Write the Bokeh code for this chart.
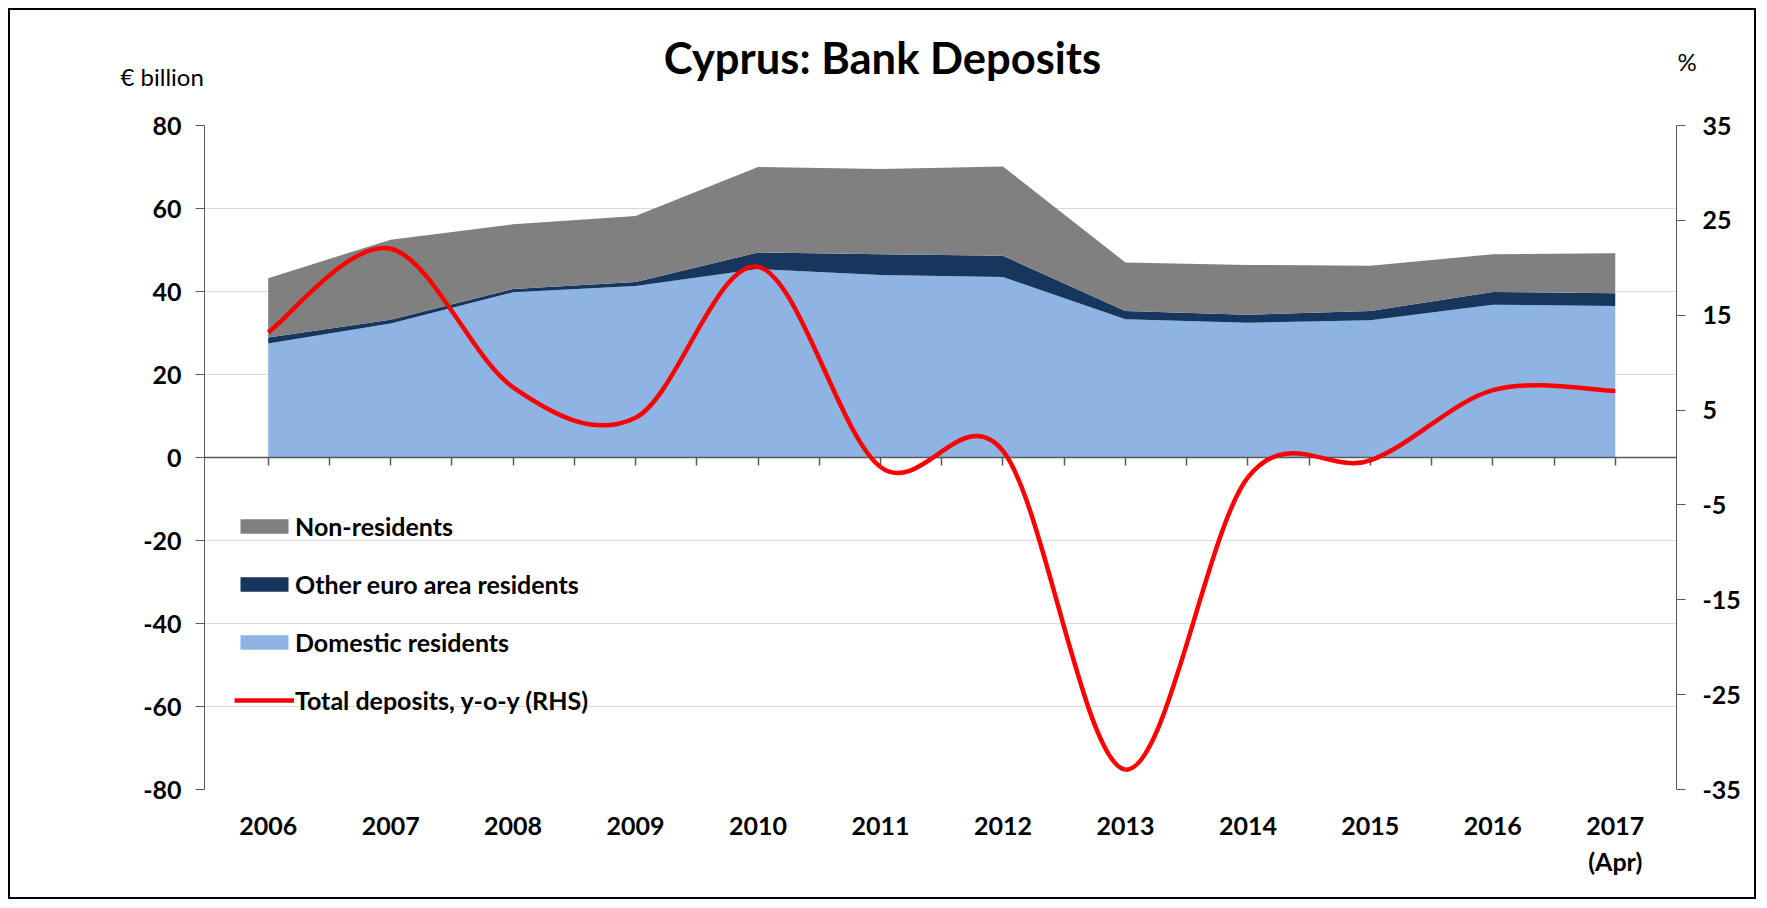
import numpy as np
from bokeh.plotting import figure
from bokeh.models import (ColumnDataSource, Range1d, LinearAxis, FixedTicker,
                          Legend, LegendItem)
from bokeh.core.properties import value
from bokeh.embed import file_html
from bokeh.resources import INLINE

# ---------------- data ----------------
years = [2006, 2007, 2008, 2009, 2010, 2011, 2012, 2013, 2014, 2015, 2016, 2017]
year_labels = ["2006", "2007", "2008", "2009", "2010", "2011", "2012", "2013",
               "2014", "2015", "2016", "2017\n(Apr)"]
domestic = [27.5, 32.3, 39.8, 41.3, 45.4, 44.0, 43.5, 33.3, 32.5, 33.1, 36.8, 36.5]
other_ea = [1.4, 0.9, 0.8, 1.0, 4.0, 5.0, 5.1, 2.0, 1.9, 2.2, 3.1, 3.1]
non_res = [14.3, 19.3, 15.6, 15.9, 20.6, 20.5, 21.5, 11.7, 12.0, 10.9, 9.1, 9.6]
total_yoy = [13.2, 22.0, 7.4, 4.2, 20.1, -1.0, 0.7, -32.9, -2.1, -0.3, 7.1, 7.0]

left_ticks = [-80, -60, -40, -20, 0, 20, 40, 60, 80]
right_ticks = [-35, -25, -15, -5, 5, 15, 25, 35]

title_text = "Cyprus: Bank Deposits"
left_unit = "€ billion"
right_unit = "%"

FONT = "Lato"
AXIS_COLOR = "#595959"
C_DOM, C_OTH, C_NON, C_RED = "#8EB4E3", "#17365D", "#808080", "#FF0000"
BORDER = "2px solid #000000"

W = 1748
HEAD_H = 100
MAIN_H = 791

# ---------------- header (title and unit labels) ----------------
head = figure(width=W, height=HEAD_H, x_range=Range1d(0, W), y_range=Range1d(HEAD_H, 0),
              output_backend="svg", toolbar_location=None, min_border=0,
              x_axis_type=None, y_axis_type=None)
head.outline_line_color = None
head.background_fill_color = "white"
head.border_fill_color = "white"
head.margin = (8, 0, 0, 8)
head.styles = {"border-top": BORDER, "border-left": BORDER, "border-right": BORDER}
head.text(x=[872], y=[46], text=[title_text], text_align="center",
          text_baseline="alphabetic", text_font=value(FONT),
          text_font_style="bold", text_font_size="43.5px", text_color="black")
head.text(x=[110], y=[65.5], text=[left_unit], text_align="left",
          text_baseline="alphabetic", text_font=value(FONT),
          text_font_size="24px", text_color="black")
head.text(x=[1667], y=[51], text=[right_unit], text_align="left",
          text_baseline="alphabetic", text_font=value(FONT),
          text_font_size="24px", text_color="black")

# ---------------- main chart ----------------
p = figure(width=W, height=MAIN_H,
           x_range=Range1d(2005.48, 2017.5), y_range=Range1d(-80, 80),
           output_backend="svg", toolbar_location=None,
           min_border_left=194, min_border_right=82,
           min_border_top=17, min_border_bottom=110)
p.margin = (0, 0, 0, 8)
p.styles = {"border-bottom": BORDER, "border-left": BORDER, "border-right": BORDER}
p.extra_y_ranges = {"pct": Range1d(-35, 35)}
p.outline_line_color = None
p.background_fill_color = "white"
p.border_fill_color = "white"

p.xgrid.visible = False
p.ygrid.ticker = FixedTicker(ticks=left_ticks)
p.ygrid.grid_line_color = "#D9D9D9"
p.ygrid.grid_line_width = 1

src = ColumnDataSource(dict(year=years, dom=domestic, oth=other_ea, non=non_res))
r_dom, r_oth, r_non = p.varea_stack(["dom", "oth", "non"], x="year", source=src,
                                    color=[C_DOM, C_OTH, C_NON])

# smooth red line: Bezier segments through the data points
xs = np.array(years, dtype=float)
ys = np.array(total_yoy, dtype=float)
n = len(xs)
idx = np.arange(n)
prv = np.clip(idx - 1, 0, n - 1)
nxt = np.clip(idx + 1, 0, n - 1)
tx = (xs[nxt] - xs[prv]) / 6.0
ty = (ys[nxt] - ys[prv]) / 6.0
bez = ColumnDataSource(dict(x0=xs[:-1], y0=ys[:-1], x1=xs[1:], y1=ys[1:],
                            cx0=xs[:-1] + tx[:-1], cy0=ys[:-1] + ty[:-1],
                            cx1=xs[1:] - tx[1:], cy1=ys[1:] - ty[1:]))
r_red = p.bezier(x0="x0", y0="y0", x1="x1", y1="y1", cx0="cx0", cy0="cy0",
                 cx1="cx1", cy1="cy1", source=bez, line_color=C_RED,
                 line_width=4.5, y_range_name="pct", level="overlay")

# bottom axis: year labels only
xa = p.xaxis[0]
xa.ticker = FixedTicker(ticks=years)
xa.major_label_overrides = {y: lab for y, lab in zip(years, year_labels)}
xa.axis_line_color = None
xa.major_tick_line_color = None
xa.minor_tick_line_color = None
xa.major_tick_out = 0
xa.major_tick_in = 0
xa.major_label_standoff = 20
xa.major_label_text_font = FONT
xa.major_label_text_font_style = "bold"
xa.major_label_text_font_size = "25px"
xa.major_label_text_color = "black"

# horizontal axis line at zero with half-year tick marks
half_ticks = sorted(set(list(years) + [y + 0.5 for y in years[:-1]]))
zax = LinearAxis(fixed_location=0, ticker=FixedTicker(ticks=half_ticks),
                 major_label_text_color=None, major_label_standoff=0,
                 major_tick_in=8, major_tick_out=0,
                 minor_tick_line_color=None,
                 axis_line_color=AXIS_COLOR, major_tick_line_color=AXIS_COLOR,
                 axis_line_width=1.5, major_tick_line_width=1.5)
p.add_layout(zax, "above")

# left axis
ya = p.yaxis[0]
ya.ticker = FixedTicker(ticks=left_ticks)
ya.major_label_overrides = {t: str(t) for t in left_ticks}
ya.axis_line_color = AXIS_COLOR
ya.major_tick_line_color = AXIS_COLOR
ya.minor_tick_line_color = None
ya.major_tick_out = 9
ya.major_tick_in = 0
ya.major_label_standoff = 14
ya.major_label_text_font = FONT
ya.major_label_text_font_style = "bold"
ya.major_label_text_font_size = "25px"
ya.major_label_text_color = "black"

# right axis
ra = LinearAxis(y_range_name="pct", ticker=FixedTicker(ticks=right_ticks))
ra.major_label_overrides = {t: str(t) for t in right_ticks}
ra.axis_line_color = AXIS_COLOR
ra.major_tick_line_color = AXIS_COLOR
ra.minor_tick_line_color = None
ra.major_tick_out = 9
ra.major_tick_in = 0
ra.major_label_standoff = 17
ra.major_label_text_font = FONT
ra.major_label_text_font_style = "bold"
ra.major_label_text_font_size = "25px"
ra.major_label_text_color = "black"
p.add_layout(ra, "right")

legend = Legend(items=[
    LegendItem(label="Non-residents", renderers=[r_non]),
    LegendItem(label="Other euro area residents", renderers=[r_oth]),
    LegendItem(label="Domestic residents", renderers=[r_dom]),
    LegendItem(label="Total deposits, y-o-y (RHS)", renderers=[r_red]),
], location=(30, 74), orientation="vertical",
    glyph_width=60, glyph_height=18, label_standoff=1, spacing=28,
    padding=0, margin=0, border_line_color=None, background_fill_alpha=0,
    label_text_font=FONT, label_text_font_style="bold",
    label_text_font_size="25px", label_text_color="black")
p.add_layout(legend)

open("out.html", "w").write(file_html([head, p], INLINE))
